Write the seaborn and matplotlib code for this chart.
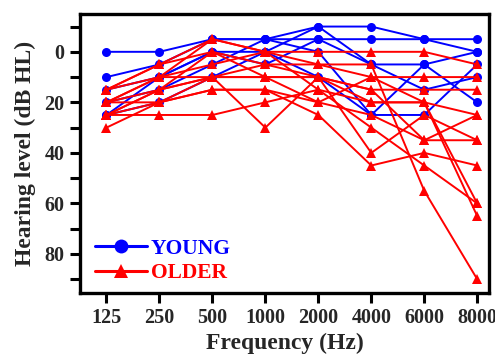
import pandas as pd
import matplotlib
matplotlib.use('Agg')
import matplotlib.pyplot as plt
from matplotlib.lines import Line2D
from matplotlib.ticker import MultipleLocator
import seaborn as sns

# frequencies (Hz)
freqs = ['125', '250', '500', '1000', '2000', '4000', '6000', '8000']

# young listeners, dB HL
young = [
    [0, 0, -5, -5, -10, -10, -5, -5],
    [10, 5, -5, -5, -5, -5, -5, 0],
    [15, 10, 0, 0, -10, 5, 5, 0],
    [20, 15, 5, -5, 0, 25, 25, 5],
    [25, 20, 10, 0, 10, 25, 5, 20],
    [25, 10, 0, 5, -5, 5, 15, 10],
]

# older listeners, dB HL
older = [
    [15, 5, -5, 0, 0, 0, 0, 5],
    [20, 10, -5, 0, 5, 10, 10, 10],
    [25, 15, 0, 5, 10, 15, 15, 15],
    [15, 10, 5, 0, 15, 20, 20, 25],
    [20, 15, 10, 10, 20, 25, 35, 25],
    [25, 20, 10, 30, 10, 40, 25, 35],
    [30, 20, 15, 15, 25, 45, 40, 45],
    [25, 25, 25, 20, 15, 30, 45, 60],
    [20, 10, 10, 5, 5, 5, 55, 90],
    [15, 5, 0, 10, 10, 20, 20, 65],
    [25, 15, 10, 10, 10, 15, 35, 35],
    [20, 20, 15, 15, 20, 10, 20, 60],
]

rows = []
for i, s in enumerate(young):
    for f, v in zip(freqs, s):
        rows.append({'freq': f, 'level': v, 'group': 'YOUNG', 'subj': 'y%d' % i})
for i, s in enumerate(older):
    for f, v in zip(freqs, s):
        rows.append({'freq': f, 'level': v, 'group': 'OLDER', 'subj': 'o%d' % i})
df = pd.DataFrame(rows)

colores = {'YOUNG': '#0000ff', 'OLDER': '#ff0000'}
marcas = {'YOUNG': 'o', 'OLDER': '^'}

sns.set_style('white')
plt.rcParams['font.family'] = ['Liberation Serif', 'DejaVu Serif']
plt.rcParams['font.weight'] = 'bold'

fig = plt.figure(figsize=(4.95, 3.57), dpi=100)
ax = fig.add_axes([0.1616, 0.179, 0.826, 0.782])

sns.lineplot(data=df, x='freq', y='level', hue='group', style='group',
             units='subj', estimator=None, palette=colores, markers=marcas,
             dashes=False, markersize=6.5, linewidth=1.4, markeredgewidth=0,
             legend=False, ax=ax)

ax.set_xlim(-0.5, 7.22)
ax.set_ylim(95.5, -15)
ax.yaxis.set_major_locator(MultipleLocator(20))
ax.yaxis.set_minor_locator(MultipleLocator(10))

for sp in ax.spines.values():
    sp.set_linewidth(2.4)
    sp.set_color('black')

ax.tick_params(axis='both', which='both', direction='out', width=2.2, length=7,
               labelsize=14.5, color='black', left=True, bottom=True, pad=4)
ax.tick_params(axis='y', which='minor', length=7)
for lb in ax.get_xticklabels() + ax.get_yticklabels():
    lb.set_fontweight('bold')

ax.set_xlabel('Frequency (Hz)', fontsize=17, fontweight='bold', labelpad=3)
ax.set_ylabel('Hearing level (dB HL)', fontsize=17, fontweight='bold', labelpad=6)

handles = [Line2D([], [], color=colores[g], marker=marcas[g], markersize=10,
                  linewidth=2.2, markeredgewidth=0) for g in ['YOUNG', 'OLDER']]
leg = ax.legend(handles, ['YOUNG', 'OLDER'], loc='lower left', frameon=False,
                prop={'weight': 'bold', 'size': 15.5}, handlelength=2.4,
                handletextpad=0.2, labelspacing=0.22, borderaxespad=0.05,
                bbox_to_anchor=(0.013, 0.0))
for t, g in zip(leg.get_texts(), ['YOUNG', 'OLDER']):
    t.set_color(colores[g])

plt.savefig('out.png', dpi=100)
